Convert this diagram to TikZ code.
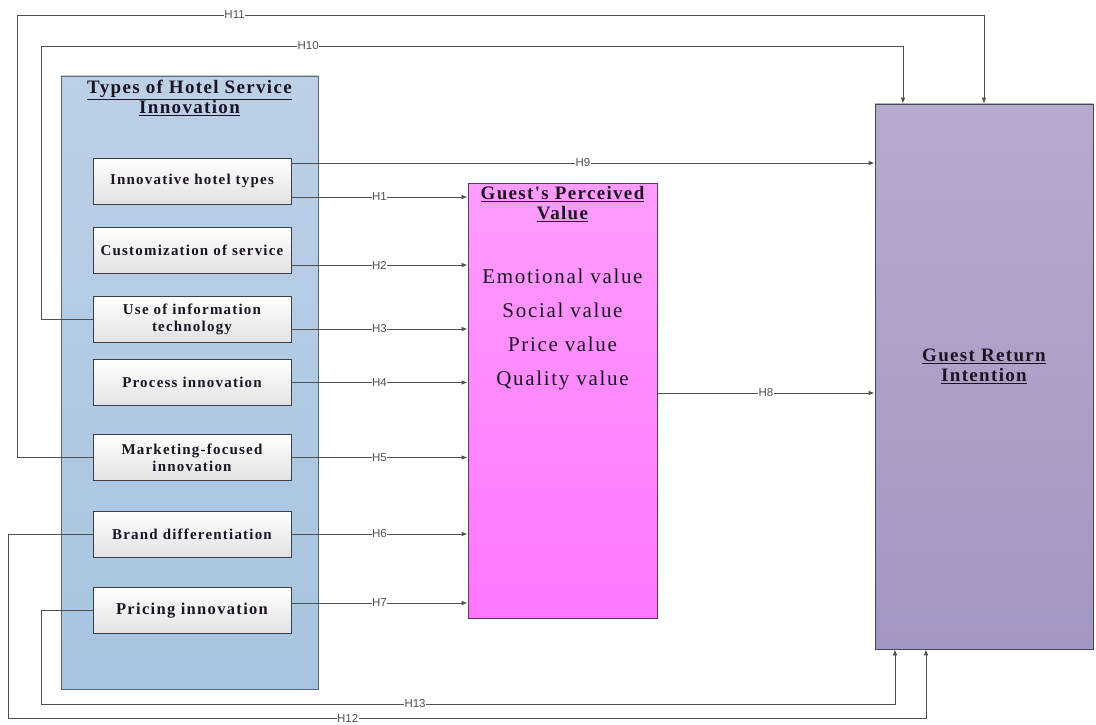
\documentclass[tikz,border=0pt]{standalone}
\usepackage{fontspec}
\setmainfont{Liberation Serif}
\newfontfamily\headfont[LetterSpace=7]{Liberation Serif}
\newfontfamily\boxfont[LetterSpace=8]{Liberation Serif}
\newfontfamily\valfont[LetterSpace=8]{Liberation Serif}
\newfontfamily\hfont{Liberation Sans}
\usetikzlibrary{arrows.meta,positioning}

\definecolor{lineGray}{RGB}{80,80,80}
\definecolor{groupTop}{RGB}{188,208,230}
\definecolor{groupBot}{RGB}{166,196,224}
\definecolor{groupLine}{RGB}{88,104,122}
\definecolor{itemBot}{RGB}{226,226,228}
\definecolor{itemLine}{RGB}{60,62,72}
\definecolor{pinkTop}{RGB}{255,156,255}
\definecolor{pinkBot}{RGB}{255,118,255}
\definecolor{pinkLine}{RGB}{90,60,90}
\definecolor{lilacTop}{RGB}{184,169,206}
\definecolor{lilacBot}{RGB}{164,150,194}
\definecolor{lilacLine}{RGB}{72,72,84}
\definecolor{inkDark}{RGB}{28,20,34}

\tikzstyle{group} = [rectangle, draw=groupLine, line width=0.8pt,
                     top color=groupTop, bottom color=groupBot,
                     minimum width=257pt, minimum height=613pt]
\tikzstyle{item} = [rectangle, draw=itemLine, line width=0.8pt,
                    top color=white, bottom color=itemBot,
                    minimum width=198pt, minimum height=46pt,
                    inner sep=2pt, text width=194pt, align=center,
                    text=inkDark,
                    font=\boxfont\bfseries\fontsize{15}{17}\selectfont]
\tikzstyle{perceived} = [rectangle, draw=pinkLine, line width=0.8pt,
                         top color=pinkTop, bottom color=pinkBot,
                         minimum width=189pt, minimum height=435pt]
\tikzstyle{intention} = [rectangle, draw=lilacLine, line width=0.8pt,
                         top color=lilacTop, bottom color=lilacBot,
                         minimum width=218pt, minimum height=545pt]
\tikzstyle{title} = [align=center, inner sep=1pt, text=inkDark,
                     font=\headfont\bfseries\fontsize{19}{20}\selectfont]
\tikzstyle{valtext} = [align=center, inner sep=0pt, text=inkDark,
                       font=\valfont\fontsize{21}{34}\selectfont]
\tikzstyle{link} = [draw=lineGray, line width=0.8pt,
                    -{Latex[length=6pt,width=4.5pt]}]
\tikzstyle{hlab} = [fill=white, inner sep=0.5pt, text=lineGray,
                    font=\hfont\fontsize{11.5}{12}\selectfont]

\begin{document}
\begin{tikzpicture}[x=1pt, y=-1pt]
  \useasboundingbox (0,0) rectangle (1096,725);

  \node (types) [group] at (189.5,382.5) {};
  \node (types-title) [title, anchor=north] at ([yshift=-3.5pt]types.north) {
    \underline{Types of Hotel Service}\\
    \underline{Innovation}
  };

  \node (inno) [item] at (192,181) {Innovative hotel types};
  \node (custom) [item] at (192,250) {Customization of service};
  \node (infotech) [item] at (192,319.5) {Use of information\\technology};
  \node (process) [item] at (192,382.5) {Process innovation};
  \node (market) [item] at (192,457.5) {Marketing-focused\\innovation};
  \node (brand) [item] at (192,534) {Brand differentiation};
  \node (pricing) [item, font=\boxfont\bfseries\fontsize{16.5}{17}\selectfont]
    at (192,610.5) {Pricing innovation};

  \node (value) [perceived] at (562.5,400.5) {};
  \node (value-title) [title, anchor=north] at ([yshift=-2.5pt]value.north) {
    \underline{Guest's Perceived}\\
    \underline{Value}
  };
  \node (value-list) [valtext] at (562.5,329) {
    Emotional value\\
    Social value\\
    Price value\\
    Quality value
  };

  \node (return) [intention] at (984,376.5) {};
  \node (return-title) [title] at (984,366.5) {
    \underline{Guest Return}\\
    \underline{Intention}
  };

  % direct paths
  \draw[link] ([yshift=18pt]inno.east) -- node[hlab]{H9} ([yshift=18pt]inno.east -| return.west);
  \draw[link] ([yshift=-16pt]inno.east) -- node[hlab]{H1} ([yshift=-16pt]inno.east -| value.west);
  \draw[link] ([yshift=-15pt]custom.east) -- node[hlab]{H2} ([yshift=-15pt]custom.east -| value.west);
  \draw[link] ([yshift=-9.5pt]infotech.east) -- node[hlab]{H3} ([yshift=-9.5pt]infotech.east -| value.west);
  \draw[link] (process.east) -- node[hlab]{H4} (process.east -| value.west);
  \draw[link] (market.east) -- node[hlab]{H5} (market.east -| value.west);
  \draw[link] (brand.east) -- node[hlab]{H6} (brand.east -| value.west);
  \draw[link] ([yshift=7.5pt]pricing.east) -- node[hlab]{H7} ([yshift=7.5pt]pricing.east -| value.west);
  \draw[link] ([yshift=7.5pt]value.east) -- node[hlab]{H8} ([yshift=7.5pt]value.east -| return.west);

  % paths around the group
  \draw[link] (infotech.west) -| (41,46) -- node[hlab, pos=0.31]{H10} (903,46)
    -- ([xshift=-81pt]return.north);
  \draw[link] (market.west) -| (17,15) -- node[hlab, pos=0.225]{H11} (984,15)
    -- (return.north);
  \draw[link] (brand.west) -| (8,718) -- node[hlab, pos=0.37]{H12} (926,718)
    -- ([xshift=-58pt]return.south);
  \draw[link] (pricing.west) -| (41,704) -- node[hlab, pos=0.438]{H13} (895,704)
    -- ([xshift=-89pt]return.south);
\end{tikzpicture}
\end{document}
